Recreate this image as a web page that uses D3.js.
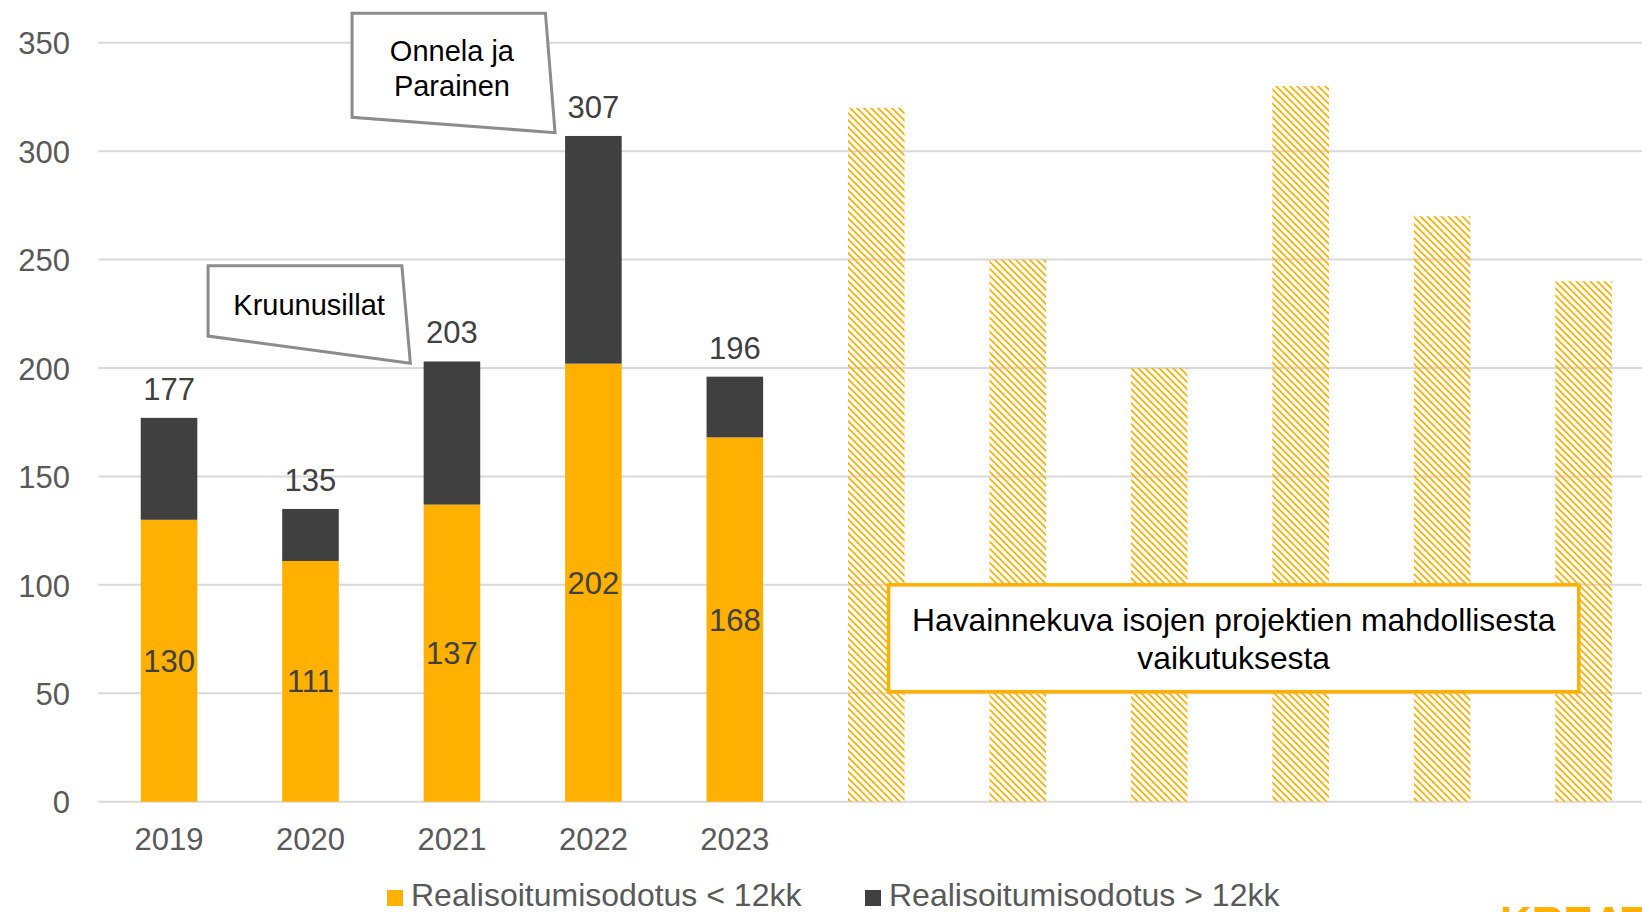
<!DOCTYPE html>
<html>
<head>
<meta charset="utf-8">
<script src="https://cdn.jsdelivr.net/npm/d3@7/dist/d3.min.js"></script>
<style>
  html, body { margin: 0; padding: 0; background: #fff; }
  svg { display: block; font-family: "Liberation Sans", Arial, sans-serif; }
</style>
</head>
<body>
<svg id="chart" width="1642" height="912"></svg>
<script>
// ---- data ----
const years = ["2019", "2020", "2021", "2022", "2023"];
const shortTerm = [130, 111, 137, 202, 168];   // Realisoitumisodotus < 12kk
const longTerm  = [47, 24, 66, 105, 28];       // Realisoitumisodotus > 12kk
const totals    = [177, 135, 203, 307, 196];
const illustrative = [320, 250, 200, 330, 270, 240]; // hatched illustration bars
const yTicks = [0, 50, 100, 150, 200, 250, 300, 350];
const seriesNames = ["Realisoitumisodotus < 12kk", "Realisoitumisodotus > 12kk"];
const boxText = ["Havainnekuva isojen projektien mahdollisesta", "vaikutuksesta"];

const ORANGE = "#FFB000", DARK = "#404040", GRID = "#D9D9D9", TXT = "#595959";

const svg = d3.select("#chart");
const W = 1642, H = 912;

// categories: 5 years + 6 unnamed illustration slots
const cats = years.concat(illustrative.map((d, i) => "ill" + i));
const x = d3.scaleBand().domain(cats).range([98.3, 1654.3]).paddingInner(0.6).paddingOuter(0.3);
const xi = d3.scaleLinear().domain([0, cats.length]).range([98.3, 1654.3]);
const y = d3.scaleLinear().domain([0, 350]).range([801.7, 42.7]);

// pattern
const defs = svg.append("defs");
const pat = defs.append("pattern").attr("id", "hatch").attr("patternUnits", "userSpaceOnUse")
  .attr("width", 7).attr("height", 7);
pat.append("path").attr("d", "M-1,-1 L8,8 M-1,6 L1,8 M6,-1 L8,1")
  .attr("stroke", ORANGE).attr("stroke-width", 1.7).attr("fill", "none");

// gridlines
svg.append("g").selectAll("line").data(yTicks).join("line")
  .attr("x1", 98.3).attr("x2", W).attr("y1", d => y(d)).attr("y2", d => y(d))
  .attr("stroke", GRID).attr("stroke-width", 2);

// y axis labels
const yAxis = d3.axisLeft(y).tickValues(yTicks).tickSize(0).tickPadding(0);
const gy = svg.append("g").attr("transform", "translate(70,0)").call(yAxis);
gy.select(".domain").remove();
gy.selectAll("text").attr("fill", TXT).style("font-size", "31px")
  .style("font-family", "Liberation Sans, Arial, sans-serif").attr("dy", "0.36em");

// x axis labels
const xAxis = d3.axisBottom(x).tickValues(years).tickSize(0).tickPadding(0);
const gx = svg.append("g").attr("transform", "translate(0,850)").call(xAxis);
gx.select(".domain").remove();
gx.selectAll("text").attr("fill", TXT).style("font-size", "31px")
  .style("font-family", "Liberation Sans, Arial, sans-serif").attr("dy", 0).attr("y", 0);

// stacked bars
const bw = x.bandwidth();
svg.append("g").selectAll("rect").data(years).join("rect")
  .attr("x", d => x(d)).attr("width", bw)
  .attr("y", (d, i) => y(shortTerm[i])).attr("height", (d, i) => y(0) - y(shortTerm[i]))
  .attr("fill", ORANGE);
svg.append("g").selectAll("rect").data(years).join("rect")
  .attr("x", d => x(d)).attr("width", bw)
  .attr("y", (d, i) => y(shortTerm[i] + longTerm[i]))
  .attr("height", (d, i) => y(shortTerm[i]) - y(shortTerm[i] + longTerm[i]))
  .attr("fill", DARK);

// hatched illustration bars
svg.append("g").selectAll("rect").data(illustrative).join("rect")
  .attr("x", (d, i) => x("ill" + i)).attr("width", bw)
  .attr("y", d => y(d)).attr("height", d => y(0) - y(d))
  .attr("fill", "url(#hatch)");

// inner labels
svg.append("g").selectAll("text").data(years).join("text")
  .attr("x", d => x(d) + bw / 2).attr("y", (d, i) => y(shortTerm[i] / 2) + 11)
  .attr("text-anchor", "middle").attr("fill", DARK).style("font-size", "31px")
  .text((d, i) => shortTerm[i]);

// total labels
svg.append("g").selectAll("text").data(years).join("text")
  .attr("x", d => x(d) + bw / 2).attr("y", (d, i) => y(totals[i]) - 18)
  .attr("text-anchor", "middle").attr("fill", DARK).style("font-size", "31px")
  .text((d, i) => totals[i]);

// callouts (positions in category-index / value units)
const callouts = [
  { pts: [[0.776, 247.2], [2.146, 247.2], [2.206, 202.2], [0.776, 214.7]], lines: ["Kruunusillat"], cx: 1.49, cy: [229.5] },
  { pts: [[1.794, 363.6], [3.161, 363.6], [3.229, 308.5], [1.794, 315.6]], lines: ["Onnela ja", "Parainen"], cx: 2.5, cy: [346.6, 330.4] }
];
callouts.forEach(c => {
  svg.append("polygon")
    .attr("points", c.pts.map(p => xi(p[0]) + "," + y(p[1])).join(" "))
    .attr("fill", "#fff").attr("stroke", "#8C8C8C").attr("stroke-width", 3).attr("stroke-linejoin", "miter");
  c.lines.forEach((t, k) => {
    svg.append("text").attr("x", xi(c.cx)).attr("y", y(c.cy[k]) + 10.5)
      .attr("text-anchor", "middle").attr("fill", "#000").style("font-size", "29px").text(t);
  });
});

// illustration box
const bx0 = xi(5.587), bx1 = xi(10.466), by0 = y(100), by1 = y(50.7);
svg.append("rect").attr("x", bx0).attr("y", by0).attr("width", bx1 - bx0).attr("height", by1 - by0)
  .attr("fill", "#fff").attr("stroke", ORANGE).attr("stroke-width", 3.5);
boxText.forEach((t, k) => {
  svg.append("text").attr("x", (bx0 + bx1) / 2).attr("y", 631 + k * 38)
    .attr("text-anchor", "middle").attr("fill", "#000").style("font-size", "31.8px").text(t);
});

// legend
const legX = [387, 865];
seriesNames.forEach((n, i) => {
  svg.append("rect").attr("x", legX[i]).attr("y", 890).attr("width", 16).attr("height", 16)
    .attr("fill", i === 0 ? ORANGE : DARK);
  svg.append("text").attr("x", legX[i] + 24).attr("y", 906).attr("fill", TXT)
    .style("font-size", "32px").text(n);
});

// partial logo at bottom right (only its top edge is visible, as in the reference)
svg.append("text").attr("x", 1500).attr("y", 938).attr("fill", ORANGE)
  .style("font-size", "44px").style("font-weight", "bold").text("KREATE");
</script>
</body>
</html>
